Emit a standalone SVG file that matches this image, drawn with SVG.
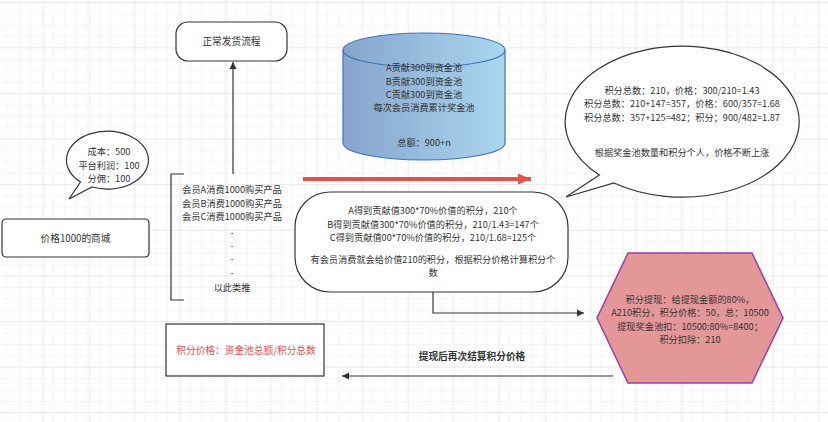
<svg xmlns="http://www.w3.org/2000/svg" width="828" height="422" viewBox="0 0 828 422">
<style>
text{font-family:"Noto Sans CJK SC","Liberation Sans",sans-serif;font-size:9.2px;fill:#333;text-anchor:middle}
.box{fill:#fff;stroke:#333;stroke-width:1.2}
.line{fill:none;stroke:#333;stroke-width:1.2}
</style>
<defs>
<pattern id="minor" width="11.4" height="11.4" patternUnits="userSpaceOnUse" x="7.5" y="2">
<path d="M0,0H11.4M0,0V11.4" fill="none" stroke="#ececec" stroke-width="1"/>
</pattern>
<pattern id="major" width="45.6" height="45.6" patternUnits="userSpaceOnUse" x="-2.3" y="1.6">
<path d="M0,0H45.6M0,0V45.6" fill="none" stroke="#e0e0e0" stroke-width="1"/>
</pattern>
<linearGradient id="cyl" x1="0" y1="0" x2="1" y2="0">
<stop offset="0" stop-color="#86a4cc"/>
<stop offset="1" stop-color="#aad6ee"/>
</linearGradient>
<marker id="ah" markerWidth="8" markerHeight="8" refX="7" refY="4" orient="auto" markerUnits="userSpaceOnUse">
<path d="M0,0.5L7,4L0,7.5Z" fill="#333"/>
</marker>
<marker id="ahr" markerWidth="14" markerHeight="12" refX="13" refY="6" orient="auto" markerUnits="userSpaceOnUse">
<path d="M0,0.5L13,6L0,11.5Z" fill="#e0534d"/>
</marker>
</defs>
<rect width="828" height="422" fill="#fff"/>
<rect width="828" height="422" fill="url(#minor)"/>
<rect width="828" height="422" fill="url(#major)"/>

<g id="connectors">
<path class="line" d="M233,174V62" marker-end="url(#ah)"/>
<path d="M303,179H531" stroke="#e0534d" stroke-width="4" fill="none" marker-end="url(#ahr)"/>
<path class="line" d="M433,292V313H584" marker-end="url(#ah)"/>
<path class="line" d="M613,376H342" marker-end="url(#ah)"/>
<text x="472" y="360" style="font-weight:bold;font-size:9.7px">提现后再次结算积分价格</text>
</g>

<g id="normal-flow">
<rect class="box" x="176" y="22" width="111" height="39" rx="12"/>
<text x="231.5" y="45" style="font-size:9.7px">正常发货流程</text>
</g>

<g id="pool">
<path d="M343,50V143A81,17 0 0 0 505,143V50" fill="url(#cyl)" stroke="#3f75b5" stroke-width="1.2"/>
<ellipse cx="424" cy="50" rx="81" ry="17" fill="url(#cyl)" stroke="#3f75b5" stroke-width="1.2"/>
<text x="424" y="71.2"><tspan x="424" y="71.2">A贡献300到资金池</tspan><tspan x="424" y="84.6">B贡献300到资金池</tspan><tspan x="424" y="98">C贡献300到资金池</tspan><tspan x="424" y="111.4">每次会员消费累计奖金池</tspan><tspan x="424" y="146">总额：900+n</tspan></text>
</g>

<g id="cost-bubble">
<path class="box" d="M80.5,182A41,29 0 1 1 92,187L69,199Z"/>
<text x="109" y="155.4"><tspan x="109" y="155.4">成本：500</tspan><tspan x="109" y="168.8">平台利润：100</tspan><tspan x="109" y="182.2">分佣：100</tspan></text>
</g>

<g id="mall">
<rect class="box" x="2" y="219" width="147" height="38" rx="4"/>
<text x="75.5" y="241.5" style="font-size:9.7px">价格1000的商城</text>
</g>

<g id="members">
<path class="line" d="M184,174H171V300H184"/>
<text x="232" y="193.4"><tspan x="232" y="193.4">会员A消费1000购买产品</tspan><tspan x="232" y="206.8">会员B消费1000购买产品</tspan><tspan x="232" y="220.2">会员C消费1000购买产品</tspan><tspan x="232" y="233.6">.</tspan><tspan x="232" y="247">.</tspan><tspan x="232" y="260.4">.</tspan><tspan x="232" y="273.8">.</tspan><tspan x="232" y="290.5">以此类推</tspan></text>
</g>

<g id="price-bubble">
<path class="box" d="M599.4,175A117,75.5 0 1 1 614,183L566,197Z"/>
<text x="682" y="93.9"><tspan x="682" y="93.9">积分总数：210，价格：300/210=1.43</tspan><tspan x="682" y="107.3">积分总数：210+147=357，价格：600/357=1.68</tspan><tspan x="682" y="120.7">积分总数：357+125=482；积分；900/482=1.87</tspan><tspan x="682" y="156.3">根据奖金池数量和积分个人，价格不断上涨</tspan></text>
</g>

<g id="points">
<rect class="box" x="295" y="192" width="273" height="100" rx="35"/>
<text x="433" y="214.4"><tspan x="433" y="214.4">A得到贡献值300*70%价值的积分，210个</tspan><tspan x="433" y="227.8">B得到贡献值300*70%价值的积分，210/1.43=147个</tspan><tspan x="433" y="241.2">C得到贡献值00*70%价值的积分，210/1.68=125个</tspan><tspan x="433" y="262.6">有会员消费就会给价值210的积分，根据积分价格计算积分个</tspan><tspan x="433" y="276">数</tspan></text>
</g>

<g id="withdraw">
<path d="M628,253H752L783,318L752,383H628L597,318Z" fill="#e39797" stroke="#9b3fa5" stroke-width="1.5"/>
<text x="690" y="302.7"><tspan x="690" y="302.7">积分提现：给提现金额的80%，</tspan><tspan x="690" y="316.1">A210积分，积分价格：50，总：10500</tspan><tspan x="690" y="329.5">提现奖金池扣：10500:80%=8400；</tspan><tspan x="690" y="342.9">积分扣除：210</tspan></text>
</g>

<g id="formula">
<rect class="box" x="166" y="324" width="158" height="52"/>
<text x="246" y="354" style="fill:#d9534f;font-size:9.7px">积分价格：资金池总额/积分总数</text>
</g>
</svg>
